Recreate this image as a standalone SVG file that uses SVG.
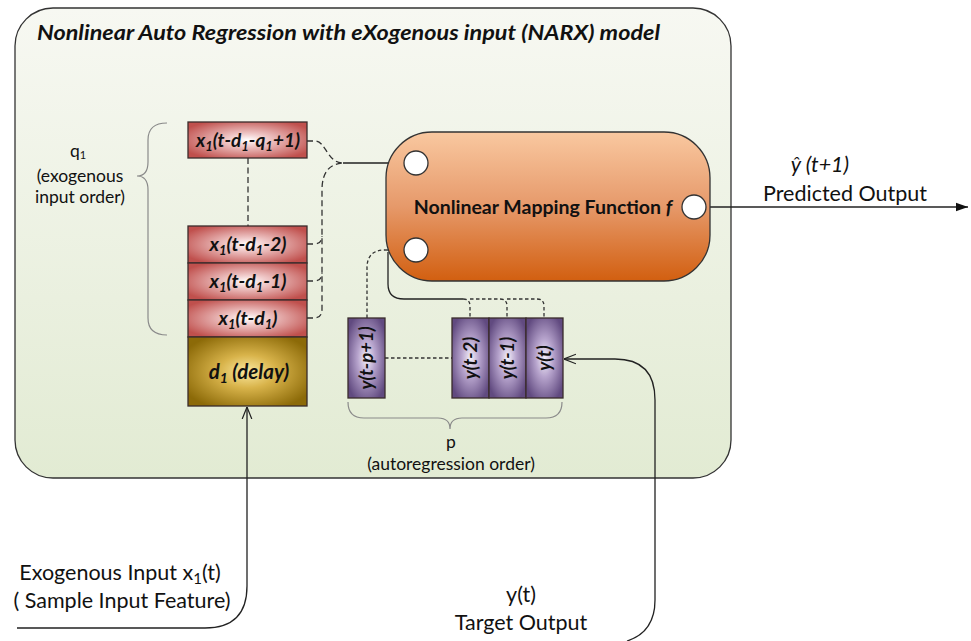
<svg xmlns="http://www.w3.org/2000/svg" width="971" height="641" viewBox="0 0 971 641">
<defs>
<linearGradient id="bgG" x1="0" y1="0" x2="0" y2="1"><stop offset="0" stop-color="#f7f8f2"/><stop offset="1" stop-color="#e2ebd3"/></linearGradient>
<linearGradient id="orG" x1="0" y1="0" x2="0" y2="1"><stop offset="0" stop-color="#f9c8a0"/><stop offset="0.5" stop-color="#e6996a"/><stop offset="1" stop-color="#d25f10"/></linearGradient>
<radialGradient id="redG" cx="0.5" cy="0.5" r="0.6"><stop offset="0" stop-color="#ffffff"/><stop offset="0.25" stop-color="#f2cfcf"/><stop offset="1" stop-color="#c0504d"/></radialGradient>
<radialGradient id="goldG" cx="0.5" cy="0.5" r="0.6"><stop offset="0" stop-color="#fbe9a0"/><stop offset="0.4" stop-color="#d8b34a"/><stop offset="1" stop-color="#8c6a08"/></radialGradient>
<radialGradient id="purG" cx="0.5" cy="0.5" r="0.6"><stop offset="0" stop-color="#f4f0fa"/><stop offset="0.4" stop-color="#b6a3cc"/><stop offset="1" stop-color="#614a80"/></radialGradient>
<marker id="arF" viewBox="0 0 10 10" refX="10" refY="5" markerWidth="8" markerHeight="8" orient="auto" markerUnits="userSpaceOnUse"><path d="M0,1 L10,5 L0,9 z" fill="#111"/></marker>
<marker id="arBig" viewBox="0 0 10 10" refX="10" refY="5" markerWidth="12" markerHeight="12" orient="auto" markerUnits="userSpaceOnUse"><path d="M0,1.5 L10,5 L0,8.5 z" fill="#111"/></marker>
<marker id="arO" viewBox="0 0 10 10" refX="10" refY="5" markerWidth="12" markerHeight="12" orient="auto" markerUnits="userSpaceOnUse"><path d="M0,1 L10,5 L0,9" fill="none" stroke="#222" stroke-width="1"/></marker>
<style>
.t{font-family:Lato,"Liberation Sans",sans-serif;fill:#111}
.bi{font-weight:bold;font-style:italic}
.box{stroke:#3a2c2c;stroke-width:1.3}
.ln{fill:none;stroke:#222;stroke-width:1.3}
.ds{fill:none;stroke:#333;stroke-width:1.3;stroke-dasharray:6 3.5}
.dt{fill:none;stroke:#333;stroke-width:1.3;stroke-dasharray:3.5 2.5}
.br{fill:none;stroke:#8a8a8a;stroke-width:1.2}
.port{fill:#fff;stroke:#333;stroke-width:1.3}
</style>
</defs>
<g id="container">
<rect x="15" y="8" width="716" height="470" rx="38" ry="38" fill="url(#bgG)" stroke="#333" stroke-width="1.3"/>
<text class="t bi" x="37" y="40" font-size="21" textLength="623" lengthAdjust="spacingAndGlyphs">Nonlinear Auto Regression with eXogenous input (NARX) model</text>
</g>
<g id="brace-q">
<path class="br" d="M167 123 Q148 123 148 140 L148 162 Q148 176 137 176 Q148 176 148 190 L148 318 Q148 335 167 335"/>
<text class="t" font-size="17.5" x="78" y="157" text-anchor="middle">q<tspan font-size="11" dy="2">1</tspan></text>
<text class="t" font-size="17.5" text-anchor="middle"><tspan x="80" y="182">(exogenous</tspan><tspan x="80" y="203">input order)</tspan></text>
</g>
<g id="brace-p">
<path class="br" d="M348 402 Q348 418 364 418 L438 418 Q450 418 450 429 Q450 418 462 418 L546 418 Q562 418 562 402"/>
<text class="t" font-size="17.5" text-anchor="middle"><tspan x="451" y="448">p</tspan><tspan x="451" y="470">(autoregression order)</tspan></text>
</g>
<g id="connectors">
<path class="ds" d="M248 158 L248 226"/>
<path class="ds" d="M307 141 L315 141 C326 141 327 163 343 163"/>
<path class="ds" d="M307 318 L314 318 Q322 318 322 309 L322 190 Q322 163 345 163"/>
<path class="ds" d="M307 244 L314 244 Q322 244 322 236"/>
<path class="ds" d="M307 281 L314 281 Q322 281 322 273"/>
<path class="ln" d="M343 163 L404 163" marker-end="url(#arF)"/>
<path class="dt" d="M367 318 L367 268 Q367 250 385 250"/>
<path class="ln" d="M385 250 L404 250" marker-end="url(#arF)"/>
<path class="ln" d="M388 252 L388 284 Q388 299 404 299 L463 299"/>
<path class="dt" d="M463 299 Q470 299 470 306 L470 318 M470 299 L500 299 Q507 299 507 306 L507 318 M507 299 L537 299 Q544 299 544 306 L544 318"/>
<path class="dt" d="M385 358 L452 358" stroke-dasharray="6 4"/>
<path class="ln" d="M706 207 L968 207" marker-end="url(#arBig)"/>
<path class="ln" d="M17 628 L205 628 Q247 628 247 586 L247 407" marker-end="url(#arO)"/>
<path class="ln" d="M627 641 Q655 632 655 600 L655 400 Q655 359 615 359 L564 359" marker-end="url(#arO)"/>
</g>
<g id="x-q1">
<rect class="box" x="188" y="122" width="119" height="36" fill="url(#redG)"/>
<text class="t bi" x="248" y="147" font-size="19" text-anchor="middle">x<tspan font-size="13" dy="4">1</tspan><tspan dy="-4">(t-d</tspan><tspan font-size="13" dy="4">1</tspan><tspan dy="-4">-q</tspan><tspan font-size="13" dy="4">1</tspan><tspan dy="-4">+1)</tspan></text>
</g>
<g id="x-d2">
<rect class="box" x="188" y="226" width="119" height="37" fill="url(#redG)"/>
<text class="t bi" x="248" y="251" font-size="19.5" text-anchor="middle">x<tspan font-size="13" dy="4">1</tspan><tspan dy="-4">(t-d</tspan><tspan font-size="13" dy="4">1</tspan><tspan dy="-4">-2)</tspan></text>
</g>
<g id="x-d1">
<rect class="box" x="188" y="263" width="119" height="37" fill="url(#redG)"/>
<text class="t bi" x="248" y="288" font-size="19.5" text-anchor="middle">x<tspan font-size="13" dy="4">1</tspan><tspan dy="-4">(t-d</tspan><tspan font-size="13" dy="4">1</tspan><tspan dy="-4">-1)</tspan></text>
</g>
<g id="x-d0">
<rect class="box" x="188" y="300" width="119" height="37" fill="url(#redG)"/>
<text class="t bi" x="248" y="325" font-size="19.5" text-anchor="middle">x<tspan font-size="13" dy="4">1</tspan><tspan dy="-4">(t-d</tspan><tspan font-size="13" dy="4">1</tspan><tspan dy="-4">)</tspan></text>
</g>
<g id="delay">
<rect class="box" x="188" y="337" width="119" height="69" fill="url(#goldG)"/>
<text class="t bi" x="249" y="379" font-size="20.5" text-anchor="middle">d<tspan font-size="14" dy="4">1</tspan><tspan dy="-4"> (delay)</tspan></text>
</g>
<g id="mapping">
<rect x="386" y="132" width="324" height="149" rx="46" ry="46" fill="url(#orG)" stroke="#333" stroke-width="1.3"/>
<circle class="port" cx="416" cy="163" r="12"/>
<circle class="port" cx="416" cy="250" r="12"/>
<circle class="port" cx="694" cy="207" r="12"/>
<text class="t" x="543" y="214" font-size="19.5" font-weight="bold" text-anchor="middle">Nonlinear Mapping Function <tspan font-style="italic">f</tspan></text>
</g>
<g id="y-p1">
<rect class="box" x="348" y="318" width="37" height="80" fill="url(#purG)"/>
<text class="t bi" transform="translate(373 358) rotate(-90)" font-size="18.5" text-anchor="middle">y(t-p+1)</text>
</g>
<g id="y-t2">
<rect class="box" x="452" y="318" width="37" height="80" fill="url(#purG)"/>
<text class="t bi" transform="translate(477 358) rotate(-90)" font-size="18.5" text-anchor="middle">y(t-2)</text>
</g>
<g id="y-t1">
<rect class="box" x="489" y="318" width="37" height="80" fill="url(#purG)"/>
<text class="t bi" transform="translate(514 358) rotate(-90)" font-size="18.5" text-anchor="middle">y(t-1)</text>
</g>
<g id="y-t">
<rect class="box" x="526" y="318" width="37" height="80" fill="url(#purG)"/>
<text class="t bi" transform="translate(551 358) rotate(-90)" font-size="18.5" text-anchor="middle">y(t)</text>
</g>
<g id="output-label">
<text class="t" font-size="21.5" text-anchor="middle"><tspan x="820" y="172" font-style="italic">ŷ (t+1)</tspan><tspan x="845" y="201">Predicted Output</tspan></text>
</g>
<g id="input-label">
<text class="t" font-size="21.5" text-anchor="middle"><tspan x="120" y="580">Exogenous Input x<tspan font-size="15" dy="4">1</tspan><tspan dy="-4">(t)</tspan></tspan><tspan x="122" y="608">( Sample Input Feature)</tspan></text>
</g>
<g id="target-label">
<text class="t" font-size="21.5" text-anchor="middle"><tspan x="521" y="602">y(t)</tspan><tspan x="521" y="630">Target Output</tspan></text>
</g>
</svg>
